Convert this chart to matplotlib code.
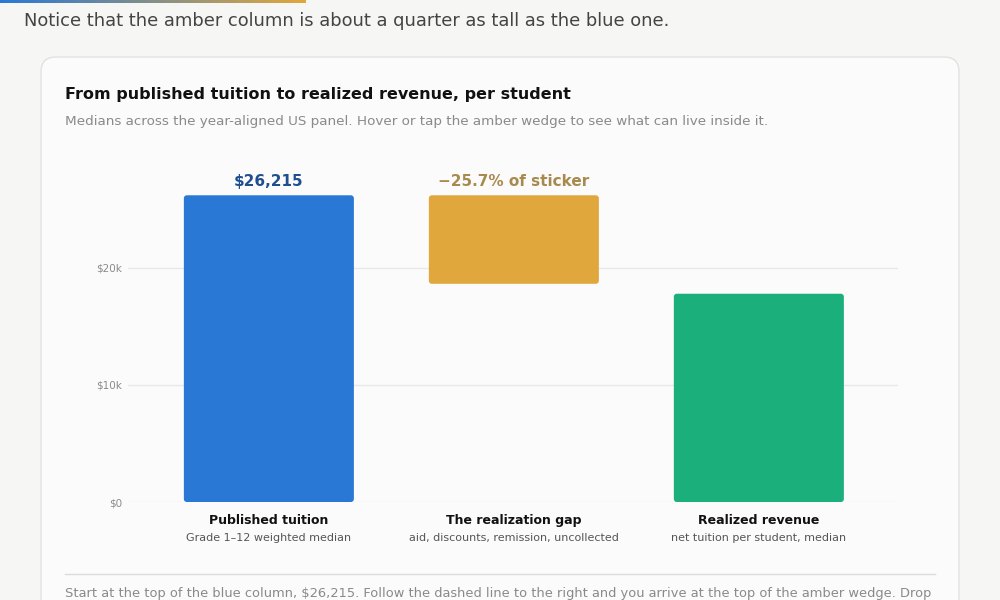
import numpy as np
import matplotlib
matplotlib.use("Agg")
import matplotlib.pyplot as plt
from matplotlib.patches import FancyBboxPatch
from matplotlib.colors import LinearSegmentedColormap
from matplotlib.ticker import FuncFormatter

# data
categories = ["Published tuition", "The realization gap", "Realized revenue"]
subtitles = ["Grade 1\u201312 weighted median",
             "aid, discounts, remission, uncollected",
             "net tuition per student, median"]
bar_bottoms = [0, 18650, 0]
bar_tops = [26215, 26215, 17800]
bar_colors = ["#2a78d6", "#e0a83c", "#1bb07b"]
top_labels = ["$26,215", "\u221225.7% of sticker", None]
top_label_colors = ["#1f4f8f", "#a98a4e", None]
y_ticks = [0, 10000, 20000]

plt.rcParams['font.family'] = ['DejaVu Sans']

fig = plt.figure(figsize=(10, 6), dpi=100)
fig.patch.set_facecolor("#f6f6f4")

# page decoration layer, pixel coordinates
bg = fig.add_axes([0, 0, 1, 1])
bg.set_xlim(0, 1000)
bg.set_ylim(600, 0)
bg.axis("off")

grad = np.linspace(0, 1, 256).reshape(1, -1)
cmap = LinearSegmentedColormap.from_list("g", ["#2a78d6", "#e0a83c"])
bg.imshow(grad, cmap=cmap, extent=[0, 306, 3, 0], aspect="auto", zorder=1)

card = FancyBboxPatch((41, 57), 918, 600, boxstyle="round,pad=0,rounding_size=15",
                      facecolor="#fbfbfb", edgecolor="#e2e2e0", linewidth=1, zorder=1)
bg.add_patch(card)

bg.text(24, 21, "Notice that the amber column is about a quarter as tall as the blue one.",
        fontsize=12.9, color="#444444", va="center", ha="left")
bg.text(65, 95, "From published tuition to realized revenue, per student",
        fontsize=11.5, fontweight="bold", color="#111111", va="center", ha="left")
bg.text(65, 121, "Medians across the year-aligned US panel. Hover or tap the amber wedge to see what can live inside it.",
        fontsize=9.7, color="#8a8a8a", va="center", ha="left")
bg.plot([65, 935], [574, 574], color="#dcdcdc", linewidth=1)
bg.text(65, 594, "Start at the top of the blue column, $26,215. Follow the dashed line to the right and you arrive at the top of the amber wedge. Drop",
        fontsize=9.4, color="#8a8a8a", va="center", ha="left")

# chart
ax = fig.add_axes([0.128, 1 - 502 / 600, 0.77, (502 - 160) / 600])
ax.set_facecolor("none")
x = np.arange(len(categories))
heights = [t - b for t, b in zip(bar_tops, bar_bottoms)]
bars = ax.bar(x, heights, bottom=bar_bottoms, width=0.694, color=bar_colors)

ax.set_xlim(-0.575, 2.568)
ax.set_ylim(0, 29230)

# swap bars for rounded ones
px_x = 1 / 245
px_y = 10000 / 117
for b, c in zip(bars, bar_colors):
    b.set_visible(False)
    rb = FancyBboxPatch((b.get_x(), b.get_y()), b.get_width(), b.get_height(),
                        boxstyle="round,pad=0,rounding_size=%f" % (3 * px_x),
                        mutation_aspect=px_y / px_x, facecolor=c, edgecolor="none", zorder=3)
    ax.add_patch(rb)

for i, (lab, col) in enumerate(zip(top_labels, top_label_colors)):
    if lab:
        ax.text(x[i], bar_tops[i] + 1150, lab, ha="center", va="center",
                fontsize=11, fontweight="bold", color=col)

ax.set_yticks(y_ticks)
ax.yaxis.set_major_formatter(FuncFormatter(lambda v, p: "$0" if v == 0 else "$%dk" % (v / 1000)))
ax.tick_params(axis="y", length=0, labelsize=7.5, labelcolor="#8a8a8a", pad=4)
ax.grid(axis="y", color="#e8e8e8", linewidth=1)
ax.set_axisbelow(True)
for s in ax.spines.values():
    s.set_visible(False)

ax.set_xticks(x)
ax.set_xticklabels([""] * len(x))
ax.tick_params(axis="x", length=0)
for i in x:
    ax.text(i, -1550, categories[i], ha="center", va="center", fontsize=9,
            fontweight="bold", color="#111111")
    ax.text(i, -3080, subtitles[i], ha="center", va="center", fontsize=8.05,
            color="#555555")

fig.savefig("out.png", dpi=100, facecolor=fig.get_facecolor())
